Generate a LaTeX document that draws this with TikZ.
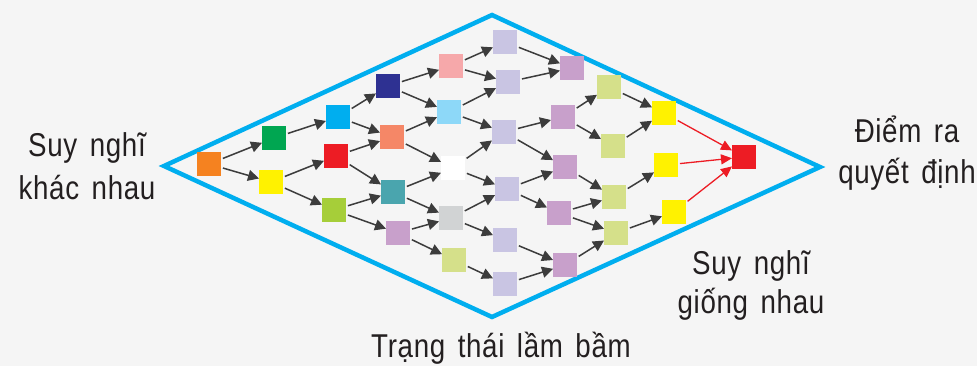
\documentclass[tikz,border=0pt]{standalone}
\usepackage{fontspec}
\setmainfont[FakeStretch=0.84,LetterSpace=2,WordSpace=1.5]{Liberation Sans}
\usetikzlibrary{arrows.meta}

\definecolor{bgc}{HTML}{F5F5F5}
\definecolor{framec}{HTML}{00AEEF}
\definecolor{arrowc}{HTML}{3C3C3C}
\definecolor{textc}{HTML}{231F20}
\definecolor{cOrange}{HTML}{F58220}
\definecolor{cGreen}{HTML}{00A651}
\definecolor{cYellow}{HTML}{FFF200}
\definecolor{cBlue}{HTML}{00AEEF}
\definecolor{cRed}{HTML}{ED1C24}
\definecolor{cLime}{HTML}{A6CE39}
\definecolor{cNavy}{HTML}{2E3192}
\definecolor{cSalmon}{HTML}{F58767}
\definecolor{cTeal}{HTML}{4AA5AE}
\definecolor{cOrchid}{HTML}{C8A0CB}
\definecolor{cPink}{HTML}{F6A8AA}
\definecolor{cSky}{HTML}{8DD8F8}
\definecolor{cGray}{HTML}{D1D3D4}
\definecolor{cPale}{HTML}{D5E08A}
\definecolor{cLav}{HTML}{C9C5E3}

\begin{document}
\begin{tikzpicture}[x=1pt,y=-1pt,
  sq/.style={minimum size=24pt,inner sep=0pt,outer sep=0pt,fill=#1},
  arr/.style={draw=arrowc,line width=1.5pt,-{Triangle[length=11pt,width=11pt]},shorten <=2pt},
  redarr/.style={draw=cRed,line width=1.3pt,-{Triangle[length=11pt,width=10pt]},shorten <=2pt},
  lbl/.style={anchor=base,text=textc,font=\fontsize{33}{40}\selectfont,inner sep=0pt}]

% canvas
\fill[bgc] (0,0) rectangle (977,366);
\useasboundingbox (0,0) rectangle (977,366);

% outer diamond
\draw[framec,line width=4.5pt] (164,166) -- (492,15) -- (820,167) -- (492,317) -- cycle;

% squares, column by column
\node[sq=cOrange] (o) at (209,164) {};

\node[sq=cGreen]  (g)  at (274,138) {};
\node[sq=cYellow] (ya) at (271,182) {};

\node[sq=cBlue] (b)  at (338,117) {};
\node[sq=cRed]  (r)  at (336,156) {};
\node[sq=cLime] (yg) at (334,210) {};

\node[sq=cNavy]   (nv) at (388,86) {};
\node[sq=cSalmon] (sa) at (392,137) {};
\node[sq=cTeal]   (te) at (393,192) {};
\node[sq=cOrchid] (lv) at (398,233) {};

\node[sq=cPink]  (pk) at (451,66) {};
\node[sq=cSky]   (lb) at (449,112) {};
\node[sq=white]  (wh) at (453,168) {};
\node[sq=cGray]  (gr) at (451,218) {};
\node[sq=cPale]  (pg) at (454,260) {};

\node[sq=cLav] (l1) at (505,42) {};
\node[sq=cLav] (l2) at (508,82) {};
\node[sq=cLav] (l3) at (504,132) {};
\node[sq=cLav] (l4) at (507,189) {};
\node[sq=cLav] (l5) at (505,240) {};
\node[sq=cLav] (l6) at (505,284) {};

\node[sq=cOrchid] (m1) at (572,68) {};
\node[sq=cOrchid] (m2) at (563,117) {};
\node[sq=cOrchid] (m3) at (565,167) {};
\node[sq=cOrchid] (m4) at (559,213) {};
\node[sq=cOrchid] (m5) at (565,265) {};

\node[sq=cPale] (p1) at (609,87) {};
\node[sq=cPale] (p2) at (613,146) {};
\node[sq=cPale] (p3) at (614,197) {};
\node[sq=cPale] (p4) at (616,233) {};

\node[sq=cYellow] (s1) at (664,113) {};
\node[sq=cYellow] (s2) at (666,165) {};
\node[sq=cYellow] (s3) at (674,212) {};

\node[sq=cRed] (fin) at (744,157) {};

% branching connectors
\draw[arr] (o) -- (g);
\draw[arr] (o) -- (ya);
\draw[arr] (g) -- (b);
\draw[arr] (ya) -- (r);
\draw[arr] (ya) -- (yg);
\draw[arr] (b) -- (nv);
\draw[arr] (b) -- (sa);
\draw[arr] (r) -- (sa);
\draw[arr] (r) -- (te);
\draw[arr] (yg) -- (te);
\draw[arr] (yg) -- (lv);
\draw[arr] (nv) -- (pk);
\draw[arr] (nv) -- (lb);
\draw[arr] (sa) -- (lb);
\draw[arr] (sa) -- (wh);
\draw[arr] (te) -- (wh);
\draw[arr] (te) -- (gr);
\draw[arr] (lv) -- (gr);
\draw[arr] (lv) -- (pg);
\draw[arr] (pk) -- (l1);
\draw[arr] (pk) -- (l2);
\draw[arr] (lb) -- (l2);
\draw[arr] (lb) -- (l3);
\draw[arr] (wh) -- (l3);
\draw[arr] (wh) -- (l4);
\draw[arr] (gr) -- (l4);
\draw[arr] (gr) -- (l5);
\draw[arr] (pg) -- (l6);

% converging connectors
\draw[arr] (l1) -- (m1);
\draw[arr] (l2) -- (m1);
\draw[arr] (l3) -- (m2);
\draw[arr] (l3) -- (m3);
\draw[arr] (l4) -- (m3);
\draw[arr] (l4) -- (m4);
\draw[arr] (l5) -- (m5);
\draw[arr] (l6) -- (m5);
\draw[arr] (m2) -- (p1);
\draw[arr] (m2) -- (p2);
\draw[arr] (m3) -- (p3);
\draw[arr] (m4) -- (p3);
\draw[arr] (m4) -- (p4);
\draw[arr] (m5) -- (p4);
\draw[arr] (p1) -- (s1);
\draw[arr] (p2) -- (s1);
\draw[arr] (p3) -- (s2);
\draw[arr] (p4) -- (s3);
\draw[redarr] (s1) -- (fin);
\draw[redarr] (s2) -- (fin);
\draw[redarr] (s3) -- (fin);

% labels
\node[lbl] (t1a) at (87,157) {Suy nghĩ};
\node[lbl] (t1b) at (87,200) {khác nhau};
\node[lbl] (t2a) at (907,143) {Điểm ra};
\node[lbl] (t2b) at (907,184) {quyết định};
\node[lbl] (t3a) at (751,274) {Suy nghĩ};
\node[lbl] (t3b) at (751,313) {giống nhau};
\node[lbl] (t4)  at (501,357) {Trạng thái lầm bầm};
\end{tikzpicture}
\end{document}
